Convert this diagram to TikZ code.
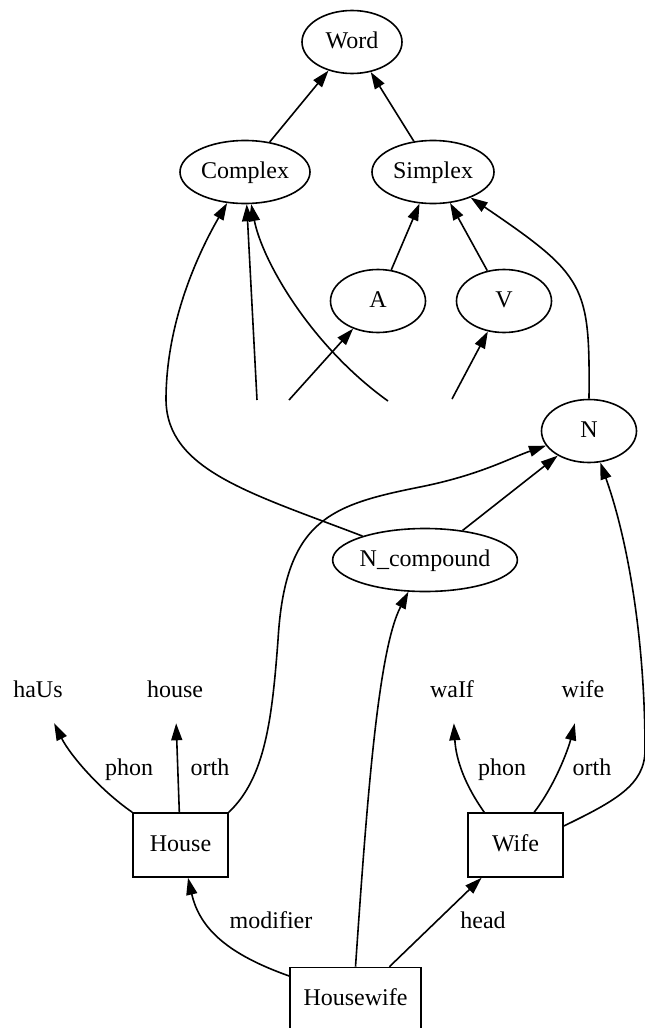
\documentclass[tikz,border=0pt]{standalone}
\usepackage{fontspec}
\setmainfont{Liberation Serif}
\usetikzlibrary{shapes.geometric,arrows.meta,positioning}
\tikzset{cat node/.style={ellipse,draw,minimum height=63pt,inner sep=0pt},
         lex node/.style={rectangle,draw,minimum width=95pt,minimum height=64pt},
         form node/.style={rectangle,minimum width=94.5pt,minimum height=63pt},
         edge label/.style={inner sep=0pt}
}

\begin{document}
\begin{tikzpicture}[x=1pt,y=-1pt,->,>={Triangle[length=17pt,width=11pt]},line width=1.6pt,
    every node/.style={font=\fontsize{24}{28}\selectfont,text height=12pt,text depth=0pt}]
    \useasboundingbox (0,0) rectangle (645,1028);

    % type hierarchy
    \node[cat node,minimum width=100pt] (Word) at (352,42) {Word};
    \node[cat node,minimum width=130pt] (Complex) at (245,172) {Complex};
    \node[cat node,minimum width=122pt] (Simplex) at (433,172) {Simplex};
    \node[cat node,minimum width=95pt] (A) at (378,301) {A};
    \node[cat node,minimum width=95pt] (V) at (504,301) {V};
    \node[cat node,minimum width=95pt] (N) at (589,431) {N};
    \node[cat node,minimum width=175pt] (Ncomp) at (425,560) {N\_compound};

    % lexical entries
    \node[lex node] (House) at (180.5,845) {House};
    \node[lex node] (Wife) at (515.5,845) {Wife};
    \node[lex node,minimum width=131pt] (Housewife) at (355.5,999.5) {Housewife};

    % forms
    \node[form node] (housePhon) at (38,691) {haUs};
    \node[form node] (houseOrth) at (175,691) {house};
    \node[form node] (wifePhon) at (452,691) {waIf};
    \node[form node] (wifeOrth) at (583,691) {wife};

    % loose ends
    \coordinate (e1) at (257,400);
    \coordinate (e2) at (289,400);
    \coordinate (e3) at (388,401);
    \coordinate (e4) at (452,399);

    \draw (Complex) -- (Word);
    \draw (Simplex) -- (Word);
    \draw (A) -- (Simplex);
    \draw (V) -- (Simplex);
    \draw (N.north) .. controls (590,285) and (586,276) .. (Simplex);

    \draw (e1) -- (Complex);
    \draw (e2) -- (A);
    \draw (e3) .. controls (310,345) and (262,260) .. (Complex);
    \draw (e4) -- (V);

    \draw (Ncomp) .. controls (250,493) and (167,470) .. (166,400)
                  .. controls (166,320) and (200,250) .. (Complex);
    \draw (Ncomp) -- (N);

    \draw (House.north east) .. controls (265,778) and (272,720) .. (278,640)
                             .. controls (285,520) and (330,505) .. (420,487)
                             .. controls (480,475) and (510,458) .. (N);
    \draw ([yshift=19pt]Wife.east) .. controls (615,801) and (645,785) .. (645,750)
                                   .. controls (645,640) and (628,540) .. (N);
    \draw (Housewife.north) .. controls (367,800) and (378,650) .. (Ncomp);

    \draw (House.north west) .. controls (100,790) and (70,755) .. (housePhon);
    \draw (House) -- (houseOrth);
    \draw ([xshift=17pt]Wife.north west) .. controls (465,785) and (456,760) .. (wifePhon);
    \draw ([xshift=67pt]Wife.north west) .. controls (555,785) and (568,750) .. (wifeOrth);

    \draw ([yshift=23.5pt]Housewife.west) .. controls (230,955) and (200,930) .. (House);
    \draw (Housewife) -- (Wife);

    % edge labels
    \node[edge label] (l1) at (129,769) {phon};
    \node[edge label] (l2) at (210,769) {orth};
    \node[edge label] (l3) at (502,769) {phon};
    \node[edge label] (l4) at (592,769) {orth};
    \node[edge label] (l5) at (271,922) {modifier};
    \node[edge label] (l6) at (483,922) {head};

\end{tikzpicture}
\end{document}
